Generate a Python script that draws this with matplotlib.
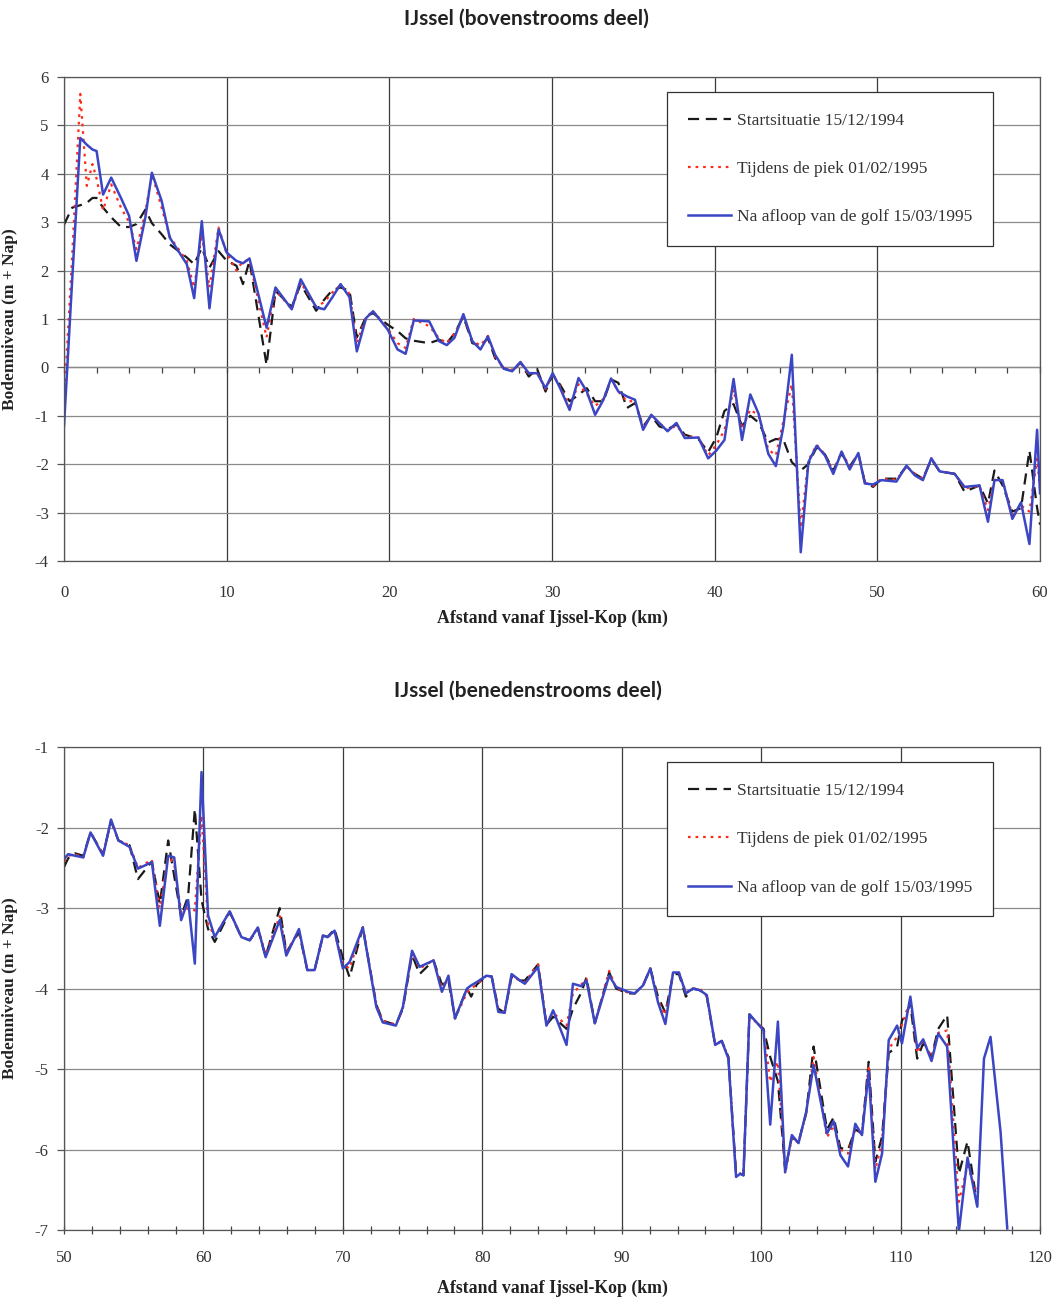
import numpy as np
import matplotlib
matplotlib.use("Agg")
import matplotlib.pyplot as plt
from matplotlib.ticker import MultipleLocator

plt.rcParams['font.family'] = ['Liberation Serif', 'DejaVu Serif']
plt.rcParams['axes.unicode_minus'] = False

# ---- bovenstrooms deel (0 - 60 km) ----
km_top = [0.0, 0.5, 1.0, 1.4, 1.75, 2.0, 2.4, 2.9, 3.5, 4.0, 4.45, 5.0, 5.4, 6.0, 6.5,
          7.55, 8.0, 8.47, 8.94, 9.5, 10.0, 10.6, 11.0, 11.4, 12.45, 13.0, 14.0, 14.55,
          15.5, 16.0, 16.5, 17.0, 17.55, 18.0, 18.57, 19.0, 19.9, 20.5, 21.0, 21.5,
          22.45, 23.06, 23.53, 24.0, 24.55, 25.1, 25.6, 26.06, 26.5, 27.04, 27.55,
          28.06, 28.57, 29.08, 29.6, 30.04, 30.5, 31.08, 31.63, 32.14, 32.65, 33.16,
          33.63, 34.08, 34.6, 35.1, 35.6, 36.1, 36.6, 37.1, 37.65, 38.16, 39.0, 39.6,
          40.1, 40.6, 41.16, 41.68, 42.19, 42.7, 43.3, 43.76, 44.23, 44.74, 45.29,
          45.76, 46.27, 46.78, 47.29, 47.8, 48.3, 48.83, 49.23, 49.74, 50.25, 51.17,
          51.79, 52.3, 52.8, 53.32, 53.83, 54.75, 55.36, 56.28, 56.8, 57.2, 57.7,
          58.3, 58.83, 59.35, 59.82, 60.0]
blue_top = [-1.2, 1.8, 4.74, 4.6, 4.5, 4.47, 3.57, 3.92, 3.5, 3.13, 2.2, 3.1, 4.02, 3.44, 2.68,
            2.13, 1.43, 3.02, 1.22, 2.85, 2.37, 2.2, 2.15, 2.25, 0.82, 1.65, 1.2, 1.82,
            1.24, 1.2, 1.45, 1.72, 1.45, 0.33, 1.02, 1.16, 0.78, 0.37, 0.28, 0.97,
            0.95, 0.54, 0.46, 0.61, 1.10, 0.54, 0.37, 0.64, 0.26, -0.03, -0.08,
            0.11, -0.12, -0.12, -0.43, -0.12, -0.43, -0.88, -0.22, -0.5, -0.98, -0.67,
            -0.23, -0.5, -0.6, -0.67, -1.29, -0.98, -1.15, -1.32, -1.15, -1.46, -1.45, -1.88,
            -1.72, -1.5, -0.24, -1.5, -0.56, -0.96, -1.79, -2.04, -1.21, 0.26, -3.82,
            -1.96, -1.62, -1.82, -2.2, -1.74, -2.11, -1.77, -2.4, -2.42, -2.33, -2.36,
            -2.03, -2.23, -2.33, -1.88, -2.15, -2.2, -2.47, -2.44, -3.19, -2.33, -2.33,
            -3.13, -2.79, -3.65, -1.29, -2.6]
red_top = [-0.75, 2.3, 5.65, 3.75, 4.2, 3.9, 3.25, 3.78, 3.3, 3.0, 2.44, 3.2, 4.0, 3.3, 2.7,
           2.2, 1.65, 2.75, 1.65, 2.89, 2.35, 2.0, 2.2, 2.2, 0.62, 1.6, 1.2, 1.75,
           1.25, 1.35, 1.55, 1.7, 1.52, 0.5, 1.05, 1.15, 0.8, 0.5, 0.4, 1.0,
           0.85, 0.6, 0.5, 0.7, 1.05, 0.55, 0.45, 0.65, 0.22, -0.02, -0.05,
           0.1, -0.15, -0.1, -0.45, -0.15, -0.4, -0.8, -0.35, -0.55, -0.8, -0.65,
           -0.25, -0.5, -0.7, -0.7, -1.25, -1.0, -1.15, -1.3, -1.2, -1.42, -1.45, -1.82,
           -1.6, -1.3, -0.46, -1.28, -0.87, -1.0, -1.7, -1.82, -1.1, -0.35, -3.32,
           -1.92, -1.6, -1.8, -2.15, -1.75, -2.05, -1.8, -2.38, -2.45, -2.3, -2.32,
           -2.05, -2.2, -2.3, -1.88, -2.15, -2.2, -2.5, -2.45, -2.95, -2.3, -2.35,
           -3.05, -2.85, -2.98, -1.89, -2.5]
black_top = [2.95, 3.3, 3.35, 3.4, 3.5, 3.5, 3.3, 3.1, 2.9, 2.9, 2.96, 3.26, 2.98, 2.75, 2.54,
             2.27, 2.13, 2.47, 2.06, 2.4, 2.2, 2.1, 1.72, 2.2, 0.05, 1.58, 1.25, 1.72,
             1.17, 1.4, 1.6, 1.65, 1.58, 0.62, 1.05, 1.12, 0.88, 0.75, 0.6, 0.55,
             0.5, 0.57, 0.5, 0.7, 1.05, 0.5, 0.45, 0.6, 0.19, -0.02, -0.08,
             0.1, -0.19, -0.03, -0.5, -0.15, -0.36, -0.7, -0.57, -0.43, -0.7, -0.7,
             -0.25, -0.32, -0.84, -0.74, -1.22, -1.0, -1.22, -1.28, -1.18, -1.39, -1.48, -1.75,
             -1.45, -0.9, -0.76, -1.21, -1.0, -1.14, -1.55, -1.48, -1.5, -1.96, -2.13,
             -2.0, -1.65, -1.8, -2.13, -1.78, -2.05, -1.78, -2.37, -2.47, -2.3, -2.3,
             -2.05, -2.2, -2.3, -1.9, -2.15, -2.2, -2.57, -2.44, -2.81, -2.13, -2.44,
             -2.98, -2.91, -1.72, -2.9, -3.25]

# ---- benedenstrooms deel (50 - 120 km) ----
nan = np.nan
km_bot = [50.0, 50.3, 50.8, 51.38, 51.9, 52.8, 53.37, 53.9, 54.7, 55.3, 56.3, 56.87, 57.47,
          57.9, 58.4, 58.9, 59.38, 59.86, 60.33, 60.81, 61.88, 62.72, 63.32, 63.9, 64.46,
          65.47, 65.94, 66.85, 67.45, 67.97, 68.57, 68.9, 69.4, 70.0, 70.48, 71.43, 72.4,
          72.86, 73.8, 74.3, 74.96, 75.5, 76.5, 77.1, 77.57, 78.04, 78.9, 79.2, 79.6,
          80.3, 80.67, 81.15, 81.6, 82.1, 82.7, 83.05, 84.0, 84.6, 85.08, 86.04, 86.5,
          87.1, 87.47, 88.07, 89.1, 89.6, 90.45, 90.93, 91.53, 92.05, 92.6, 93.13, 93.68,
          94.1, 94.6, 95.1, 95.6, 96.1, 96.7, 97.17, 97.65, 98.2, 98.5, 98.73, 99.16,
          99.52, 100.17, 100.65, 101.2, 101.72, 102.2, 102.68, 103.23, 103.76, 104.72,
          105.2, 105.68, 106.23, 106.75, 107.23, 107.71, 108.19, 108.67, 109.15, 109.75,
          110.1, 110.7, 111.19, 111.62, 112.22, 112.7, 113.34, 114.18, 114.8, 115.5,
          115.98, 116.45, 117.17, 117.65]
blue_bot = [-2.39, -2.33, -2.35, -2.37, -2.06, -2.35, -1.9, -2.16, -2.24, -2.51, -2.43, -3.22, -2.35,
            -2.37, -3.15, -2.9, -3.69, -1.31, -3.09, -3.36, -3.04, -3.36, -3.4, -3.24, -3.61,
            -3.15, -3.59, -3.26, -3.77, -3.77, -3.34, -3.36, -3.28, -3.75, -3.67, -3.24, -4.23,
            -4.42, -4.46, -4.23, -3.53, -3.73, -3.65, -4.04, -3.84, -4.37, -4.0, -3.96, -3.92,
            -3.84, -3.85, -4.29, -4.3, -3.82, -3.9, -3.94, -3.73, -4.46, -4.27, -4.7, -3.94,
            -3.97, -3.9, -4.43, -3.84, -3.98, -4.04, -4.06, -3.96, -3.75, -4.17, -4.44, -3.8,
            -3.8, -4.06, -4.0, -4.02, -4.08, -4.7, -4.65, -4.87, -6.34, -6.3, -6.32, -4.32,
            -4.39, -4.52, -5.69, -4.41, -6.28, -5.82, -5.92, -5.53, -4.95, -5.8,
            -5.65, -6.07, -6.21, -5.68, -5.82, -5.03, -6.4, -6.05, -4.64, -4.46,
            -4.68, -4.1, -4.74, -4.63, -4.9, -4.56, -4.72, -7.02, -6.1, -6.71,
            -4.87, -4.6, -5.78, -6.98]
red_bot = [-2.42, -2.35, -2.33, -2.37, -2.06, -2.33, -1.92, -2.16, -2.22, -2.5, -2.4, -3.0, -2.35,
           -2.45, -3.05, -3.0, -3.03, -1.85, -3.2, -3.35, -3.04, -3.36, -3.4, -3.24, -3.58,
           -3.1, -3.55, -3.28, -3.77, -3.77, -3.34, -3.36, -3.3, -3.7, -3.75, -3.24, -4.2,
           -4.4, -4.45, -4.25, -3.56, -3.75, -3.65, -3.98, -3.88, -4.37, -4.05, -4.0, -3.95,
           -3.84, -3.85, -4.25, -4.3, -3.85, -3.9, -3.92, -3.7, -4.43, -4.3, -4.46, -4.06,
           -3.95, -3.88, -4.43, -3.78, -4.0, -4.05, -4.06, -3.96, -3.75, -4.15, -4.33, -3.82,
           -3.8, -4.05, -4.0, -4.0, -4.1, -4.7, -4.65, -4.85, -6.3, -6.3, -6.32, -4.32,
           -4.4, -4.5, -5.16, -4.91, -6.3, -5.85, -5.92, -5.55, -4.85, -5.85,
           -5.7, -6.0, -6.05, -5.75, -5.8, -4.95, -6.25, -5.9, -4.75, -4.6,
           -4.45, -4.15, -4.8, -4.65, -4.85, -4.55, -4.52, -6.65, -6.2, -6.55,
           nan, nan, nan, nan]
black_bot = [-2.49, -2.38, -2.32, -2.35, -2.06, -2.33, -1.92, -2.16, -2.22, -2.64, -2.42, -2.95, -2.16,
             -2.6, -3.1, -2.85, -1.77, -2.9, -3.26, -3.42, -3.05, -3.36, -3.4, -3.26, -3.6,
             -3.0, -3.55, -3.3, -3.77, -3.77, -3.34, -3.36, -3.26, -3.62, -3.86, -3.24, -4.2,
             -4.4, -4.45, -4.25, -3.58, -3.82, -3.65, -3.95, -3.9, -4.37, -4.0, -4.1, -3.95,
             -3.84, -3.85, -4.25, -4.3, -3.85, -3.9, -3.9, -3.7, -4.45, -4.35, -4.5, -4.25,
             -4.05, -3.86, -4.43, -3.8, -4.0, -4.06, -4.06, -3.96, -3.75, -4.1, -4.3, -3.82,
             -3.82, -4.1, -4.0, -4.02, -4.1, -4.7, -4.65, -4.85, -6.3, -6.3, -6.32, -4.32,
             -4.4, -4.5, -4.85, -5.15, -6.25, -5.85, -5.9, -5.55, -4.72, -5.75,
             -5.6, -5.98, -6.0, -5.75, -5.8, -4.91, -6.15, -5.84, -4.8, -4.72,
             -4.4, -4.2, -4.87, -4.68, -4.85, -4.5, -4.33, -6.3, -5.9, -6.69,
             nan, nan, nan, nan]

labels = ['Startsituatie 15/12/1994', 'Tijdens de piek 01/02/1995',
          'Na afloop van de golf 15/03/1995']

fig = plt.figure(figsize=(10.62, 13.0), dpi=100)
ax1 = fig.add_axes([0.0603, 0.5685, 0.919, 0.3723])
ax2 = fig.add_axes([0.0603, 0.0538, 0.919, 0.3715])


def style(ax, xlim, ylim, xlabel_y):
    ax.set_xlim(*xlim)
    ax.set_ylim(*ylim)
    ax.xaxis.set_major_locator(MultipleLocator(10))
    ax.yaxis.set_major_locator(MultipleLocator(1))
    ax.grid(True, axis='x', color='#3a3a3a', lw=0.9)
    ax.grid(True, axis='y', color='#8a8a8a', lw=0.9)
    ax.set_axisbelow(True)
    for sp in ax.spines.values():
        sp.set_color('#555555')
        sp.set_linewidth(0.9)
    ax.tick_params(axis='y', direction='out', length=5, width=0.9, color='#555555',
                   labelsize=12, pad=6, labelcolor='#333333')
    ax.tick_params(axis='x', labelsize=12, labelcolor='#333333')
    ax.set_ylabel('Bodemniveau (m + Nap)', fontsize=12.5, fontweight='bold', color='#222222')
    ax.yaxis.set_label_coords(-0.047, 0.5)
    ax.set_xlabel('Afstand vanaf Ijssel-Kop (km)', fontsize=12.8, fontweight='bold',
                  color='#222222')
    ax.xaxis.set_label_coords(0.5, xlabel_y)


def draw(ax, km, black, red, blue):
    ax.plot(km, black, color='#1a1a1a', lw=1.6, dashes=(5, 3), label=labels[0])
    ax.plot(km, red, color='#ff2a1a', lw=1.6, dashes=(1.2, 2.2), label=labels[1])
    ax.plot(km, blue, color='#3b46c4', lw=1.8, label=labels[2])
    leg = ax.legend(loc='upper left', bbox_to_anchor=(0.618, 0.969), fontsize=12.5,
                    fancybox=False, framealpha=1, edgecolor='#333333', labelspacing=1.85,
                    borderpad=1.2, borderaxespad=0, handlelength=2.5, handletextpad=0.3)
    leg.get_frame().set_linewidth(0.9)
    for t in leg.get_texts():
        t.set_color('#333333')


# top chart
draw(ax1, km_top, black_top, red_top, blue_top)
style(ax1, (0, 60), (-4, 6), -0.101)
ax1.tick_params(axis='x', length=0, pad=17)
sec = ax1.secondary_xaxis(0.4)
sec.xaxis.set_major_locator(MultipleLocator(10))
sec.xaxis.set_minor_locator(MultipleLocator(2))
sec.tick_params(which='both', direction='out', length=4, width=0.9, color='#444444',
                labelbottom=False, labeltop=False)
sec.spines['bottom'].set_color('#555555')
sec.spines['bottom'].set_linewidth(0.9)
ax1.xaxis.set_major_formatter(lambda v, p: f'{v:g}')

# bottom chart
draw(ax2, km_bot, black_bot, red_bot, blue_bot)
style(ax2, (50, 120), (-7, -1), -0.103)
ax2.xaxis.set_minor_locator(MultipleLocator(2))
ax2.tick_params(axis='x', which='both', direction='inout', length=6, width=0.9,
                color='#444444', pad=11)

fig.text(0.496, 0.986, 'IJssel (bovenstrooms deel)', ha='center', va='center',
         fontsize=15, fontweight='bold', family=['Lato', 'DejaVu Sans'], color='#222222')
fig.text(0.497, 0.469, 'IJssel (benedenstrooms deel)', ha='center', va='center',
         fontsize=15, fontweight='bold', family=['Lato', 'DejaVu Sans'], color='#222222')

fig.savefig('out.png', dpi=100)
